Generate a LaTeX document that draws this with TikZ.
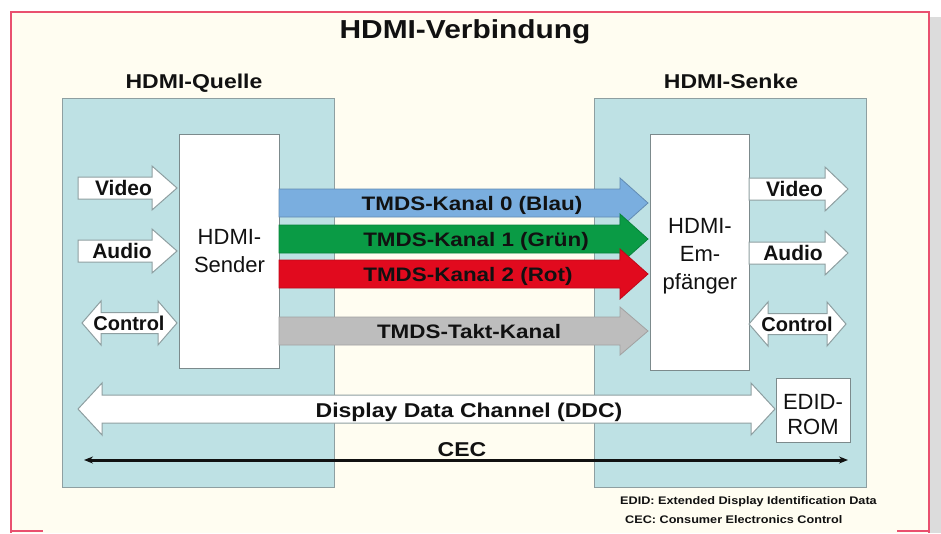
\documentclass[tikz,border=0pt]{standalone}
\usepackage{fontspec}
\setmainfont{Liberation Sans}
\newfontfamily\wide[FakeStretch=1.15]{Liberation Sans}
\usetikzlibrary{arrows.meta}
\definecolor{cream}{HTML}{FFFDF1}
\definecolor{framepink}{HTML}{E9506F}
\definecolor{shadowgray}{HTML}{DCDCDC}
\definecolor{panelfill}{HTML}{BEE1E4}
\definecolor{paneldraw}{HTML}{8E9FA1}
\definecolor{boxdraw}{HTML}{7C8A8C}
\definecolor{chblue}{HTML}{7AAEDF}
\definecolor{chgreen}{HTML}{0A9B45}
\definecolor{chred}{HTML}{E10A1E}
\definecolor{chgray}{HTML}{BDBDBD}
\definecolor{txt}{HTML}{111111}
\newcommand\rblock[7]{%
  \path[#1] (#2,#4-#5) -- (#3-#7,#4-#5) -- (#3-#7,#4-#6) -- (#3,#4) -- (#3-#7,#4+#6) -- (#3-#7,#4+#5) -- (#2,#4+#5) -- cycle;}
\newcommand\dblock[7]{%
  \path[#1] (#2,#4) -- (#2+#7,#4-#6) -- (#2+#7,#4-#5) -- (#3-#7,#4-#5) -- (#3-#7,#4-#6) -- (#3,#4) -- (#3-#7,#4+#6) -- (#3-#7,#4+#5) -- (#2+#7,#4+#5) -- (#2+#7,#4+#6) -- cycle;}
\tikzset{
  panel/.style={draw=paneldraw, fill=panelfill, line width=1.2pt, anchor=north west, inner sep=0pt},
  whitebox/.style={draw=boxdraw, fill=white, line width=1pt, anchor=north west, inner sep=0pt},
  warrow/.style={draw=paneldraw, fill=white, line width=1pt, line join=miter},
  carrow/.style={line width=0.8pt, line join=miter},
  lbl/.style={inner sep=0pt, text=txt},
  io/.style={lbl, font=\fontsize{21}{24}\selectfont\bfseries},
  ctl/.style={lbl, font=\fontsize{20}{24}\selectfont\bfseries},
  ch/.style={lbl, anchor=base, font=\wide\fontsize{19.5}{22}\selectfont\bfseries},
  dev/.style={lbl, align=center, font=\fontsize{22}{28}\selectfont},
}
\begin{document}
\begin{tikzpicture}[x=1pt, y=-1pt]
\useasboundingbox (0,0) rectangle (941,533);
% frame and background
\fill[white] (0,0) rectangle (941,533);
\fill[shadowgray] (930,17) rectangle (941,533);
\fill[cream] (11,12) rectangle (929,533);
\draw[framepink, line width=2pt] (11,533) -- (11,12) -- (929,12) -- (929,533);
\draw[framepink, line width=2pt] (11,531) -- (43,531);
\draw[framepink, line width=2pt] (897,531) -- (929,531);
% titles
\node[lbl, anchor=base, font=\wide\fontsize{26}{30}\selectfont\bfseries] (title) at (465,38) {HDMI-Verbindung};
\node[lbl, anchor=base, font=\wide\fontsize{20}{24}\selectfont\bfseries] (qtitle) at (194,88) {HDMI-Quelle};
\node[lbl, anchor=base, font=\wide\fontsize{20}{24}\selectfont\bfseries] (stitle) at (731,88) {HDMI-Senke};
% panels
\node[panel, minimum width=272pt, minimum height=389pt] (src) at (62,98) {};
\node[panel, minimum width=272pt, minimum height=389pt] (snk) at (594,98) {};
% devices
\node[whitebox, minimum width=100pt, minimum height=234pt] (sender) at (179,134) {};
\node[whitebox, minimum width=99pt, minimum height=236pt] (recv) at (650,134) {};
\node[whitebox, minimum width=74pt, minimum height=64pt] (rom) at (776,378) {};
\node[dev] (sendertxt) at (sender.center) {HDMI-\\Sender};
\node[dev] (recvtxt) at (700,256.4) {HDMI-\\Em-\\pf\"anger};
\node[dev, font=\fontsize{22}{25}\selectfont] (romtxt) at (813,414.6) {EDID-\\ROM};
% source-side white arrows
\rblock{warrow}{78}{177}{188}{11}{22}{25}
\rblock{warrow}{78}{177}{251}{11}{22}{25}
\dblock{warrow}{82}{177}{323}{10.5}{22}{19}
\node[io] (vin) at (123.5,188) {Video};
\node[io] (ain) at (122,251) {Audio};
\node[ctl] (cin) at (129,323) {Control};
% sink-side white arrows
\rblock{warrow}{749}{848}{189}{11}{22}{23}
\rblock{warrow}{749}{848}{253}{11}{22}{23}
\dblock{warrow}{749}{846}{324}{10.5}{22}{19}
\node[io] (vout) at (794.5,189) {Video};
\node[io] (aout) at (793,253) {Audio};
\node[ctl] (cout) at (797,324) {Control};
% TMDS channels
\rblock{carrow, fill=chblue, draw=chblue!80!black}{279}{648}{203}{14}{25}{28}
\rblock{carrow, fill=chgreen, draw=chgreen!85!black}{279}{648}{239}{14}{25}{28}
\rblock{carrow, fill=chred, draw=chred!85!black}{279}{648}{274}{14}{25}{28}
\rblock{carrow, fill=chgray, draw=chgray!85!black}{279}{648}{331}{14}{24}{28}
\node[ch] (ch0) at (472,210.5) {TMDS-Kanal 0 (Blau)};
\node[ch] (ch1) at (476,246.5) {TMDS-Kanal 1 (Gr\"un)};
\node[ch] (ch2) at (468,281.5) {TMDS-Kanal 2 (Rot)};
\node[ch] (clk) at (469,338.5) {TMDS-Takt-Kanal};
% DDC
\dblock{warrow}{78}{775}{409}{14}{26}{24}
\node[lbl, anchor=base, font=\wide\fontsize{20}{24}\selectfont\bfseries] (ddc) at (469,417) {Display Data Channel (DDC)};
% CEC
\coordinate (cecL) at (84,460);
\coordinate (cecR) at (848,460);
\draw[txt, line width=3pt, {Stealth[length=9pt,width=7pt]}-{Stealth[length=9pt,width=7pt]}] (cecL) -- (cecR);
\node[lbl, anchor=base, font=\wide\fontsize{20}{24}\selectfont\bfseries] (cec) at (462,456) {CEC};
% footnotes
\node[lbl, anchor=base west, font=\wide\fontsize{11}{13}\selectfont\bfseries] (fn1) at (620,504) {EDID: Extended Display Identification Data};
\node[lbl, anchor=base west, font=\wide\fontsize{11}{13}\selectfont\bfseries] (fn2) at (625,523) {CEC: Consumer Electronics Control};
\end{tikzpicture}
\end{document}
